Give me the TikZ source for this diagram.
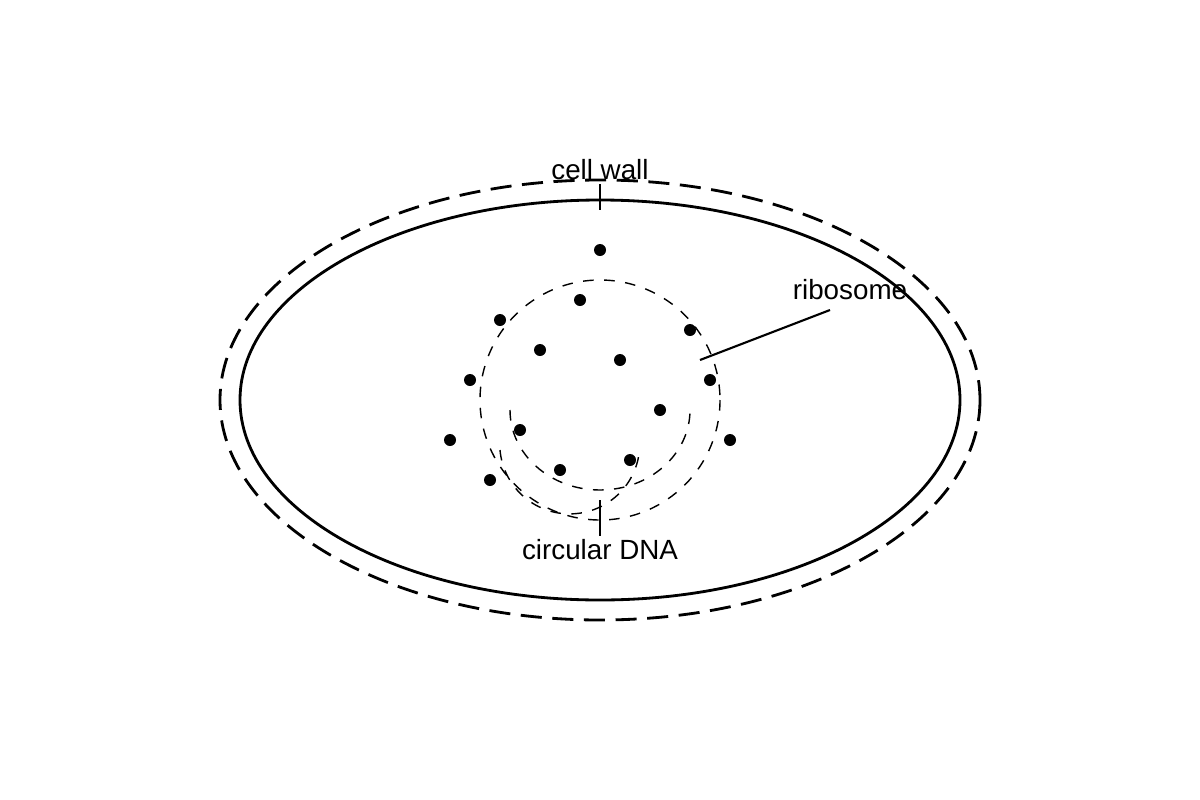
\documentclass[tikz,border=0pt]{standalone}
\usepackage{fontspec}
\setmainfont{Liberation Sans}
\usetikzlibrary{positioning}
\begin{document}
\begin{tikzpicture}[
    x=0.01cm, y=-0.01cm,
    font=\fontsize{7.9}{9}\selectfont
]
\tikzset{
    ribo/.style = {circle, fill=black, inner sep=0pt, minimum size=0.12cm},
    lbl/.style = {inner sep=1pt},
    pointer/.style = {semithick}
}
\useasboundingbox (0,0) rectangle (1200,800);
% cell wall and membrane
\draw[thick, dash pattern=on 6pt off 3pt] (600,400) ellipse [x radius=380, y radius=220];
\draw[thick] (600,400) ellipse [x radius=360, y radius=200];
% circular DNA
\draw[dashed] (600,400) circle [radius=120];
\draw[dashed] (510,410) arc [start angle=180, end angle=0, x radius=90, y radius=80];
\draw[dashed] (500,450) arc [start angle=175, end angle=5, x radius=70, y radius=70];
% ribosomes
\foreach \x/\y [count=\i] in {600/250,580/300,500/320,690/330,540/350,620/360,
    470/380,710/380,660/410,520/430,450/440,730/440,630/460,560/470,490/480}
    \node[ribo] (r\i) at (\x,\y) {};
% labels
\node[lbl] (wall) at (600,170) {cell wall};
\node[lbl] (ribosome) at (850,290) {ribosome};
\node[lbl] (dna) at (600,550) {circular DNA};
\coordinate (wallend) at (600,210);
\coordinate (riboend) at (700,360);
\coordinate (dnaend) at (600,500);
\draw[pointer] (wall.south) -- (wallend);
\draw[pointer] (830,310) coordinate (ribostart) -- (riboend);
\draw[pointer] (dna.north) -- (dnaend);
\end{tikzpicture}
\end{document}
